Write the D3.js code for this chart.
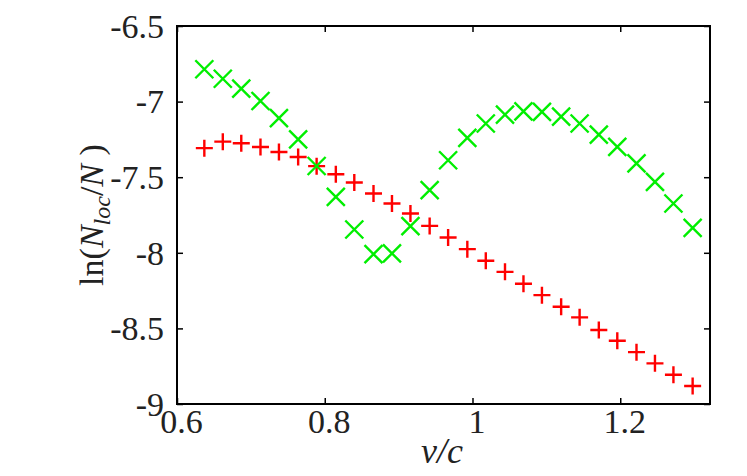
<!DOCTYPE html>
<html>
<head>
<meta charset="utf-8">
<script src="https://cdn.jsdelivr.net/npm/d3@7"></script>
<style>
  body { margin: 0; background: #fff; }
</style>
</head>
<body>
<div id="chart"></div>
<script>
// v/c sample points (same for both series)
var vc = [0.637, 0.662, 0.687, 0.713, 0.738, 0.764, 0.789, 0.815, 0.840, 0.866,
          0.891, 0.916, 0.942, 0.967, 0.993, 1.018, 1.044, 1.069, 1.094, 1.120,
          1.145, 1.171, 1.196, 1.222, 1.247, 1.272, 1.298];

// red "+" series
var plusVals = [-7.308, -7.265, -7.275, -7.300, -7.333, -7.366, -7.427, -7.480, -7.535, -7.608,
                -7.674, -7.740, -7.822, -7.899, -7.976, -8.053, -8.126, -8.205, -8.280, -8.357,
                -8.427, -8.511, -8.582, -8.657, -8.731, -8.807, -8.881];

// green "x" series
var crossVals = [-6.786, -6.849, -6.914, -6.996, -7.109, -7.250, -7.426, -7.630, -7.846, -8.009,
                 -8.004, -7.824, -7.586, -7.388, -7.240, -7.145, -7.086, -7.064, -7.068, -7.099,
                 -7.145, -7.218, -7.300, -7.409, -7.531, -7.674, -7.835];

var xTicks = [0.6, 0.8, 1, 1.2];
var yTicks = [-9, -8.5, -8, -7.5, -7, -6.5];

var FONT = "'Liberation Serif', 'Times New Roman', 'DejaVu Serif', serif";

var W = 747, H = 476;
var margin = {top: 26, right: 37, bottom: 72, left: 177};
var width = W - margin.left - margin.right;
var height = H - margin.top - margin.bottom;

var svg = d3.select("#chart").append("svg")
    .attr("width", W)
    .attr("height", H)
    .attr("font-family", FONT);

var g = svg.append("g")
    .attr("transform", "translate(" + margin.left + "," + margin.top + ")");

var x = d3.scaleLinear().domain([0.6, 1.3215]).range([0, width]);
var y = d3.scaleLinear().domain([-9, -6.5]).range([height, 0]);

function styleAxis(a){
    a.attr("font-family", FONT);
    a.select(".domain").remove();
    a.selectAll("line").attr("stroke", "#000").attr("stroke-width", 1.5);
    a.selectAll("text").attr("fill", "#222").style("font-size", "34px");
}

// ticks point inwards, mirrored on all four sides
var tickLen = 6;
g.append("g")
    .attr("transform", "translate(0," + height + ")")
    .call(d3.axisBottom(x).tickValues(xTicks).tickSize(-tickLen).tickFormat(d3.format("")))
    .call(styleAxis)
    .call(function(a){ a.selectAll("text").attr("y", 5).attr("dx", 4); });
g.append("g")
    .call(d3.axisTop(x).tickValues(xTicks).tickSize(-tickLen).tickFormat(""))
    .call(styleAxis);
g.append("g")
    .call(d3.axisLeft(y).tickValues(yTicks).tickSize(-tickLen)
        .tickFormat(function(d){ return String(d); }))
    .call(styleAxis)
    .call(function(a){ a.selectAll("text").attr("x", -13).attr("dy", "0.33em"); });
g.append("g")
    .attr("transform", "translate(" + width + ",0)")
    .call(d3.axisRight(y).tickValues(yTicks).tickSize(-tickLen).tickFormat(""))
    .call(styleAxis);

// frame
g.append("rect")
    .attr("width", width)
    .attr("height", height)
    .attr("fill", "none")
    .attr("stroke", "#000")
    .attr("stroke-width", 2);

// red plus markers
var p = 8.5;
g.selectAll(".plus")
    .data(vc)
    .enter().append("path")
    .attr("class", "plus")
    .attr("transform", function(d, i){ return "translate(" + x(d) + "," + y(plusVals[i]) + ")"; })
    .attr("d", "M" + (-p) + ",0L" + p + ",0M0," + (-p) + "L0," + p)
    .attr("stroke", "#ff0000")
    .attr("stroke-width", 2.4)
    .attr("fill", "none");

// green cross markers
var c = 9;
g.selectAll(".cross")
    .data(vc)
    .enter().append("path")
    .attr("class", "cross")
    .attr("transform", function(d, i){ return "translate(" + x(d) + "," + y(crossVals[i]) + ")"; })
    .attr("d", "M" + (-c) + "," + (-c) + "L" + c + "," + c + "M" + (-c) + "," + c + "L" + c + "," + (-c))
    .attr("stroke", "#00ee00")
    .attr("stroke-width", 2.4)
    .attr("fill", "none");

// axis titles
svg.append("text")
    .attr("x", 442)
    .attr("y", 463)
    .attr("text-anchor", "middle")
    .attr("fill", "#222")
    .style("font-size", "36px")
    .style("font-style", "italic")
    .text("v/c");

var yl = svg.append("text")
    .attr("transform", "translate(103," + (margin.top + height / 2) + ") rotate(-90)")
    .attr("text-anchor", "middle")
    .attr("fill", "#222")
    .style("font-size", "34px");
yl.append("tspan").text("ln(");
yl.append("tspan").style("font-style", "italic").text("N");
yl.append("tspan").style("font-style", "italic").style("font-size", "24px").attr("dy", 7).text("loc");
yl.append("tspan").attr("dy", -7).text("/");
yl.append("tspan").style("font-style", "italic").text("N");
yl.append("tspan").text("\u00a0)");
</script>
</body>
</html>
